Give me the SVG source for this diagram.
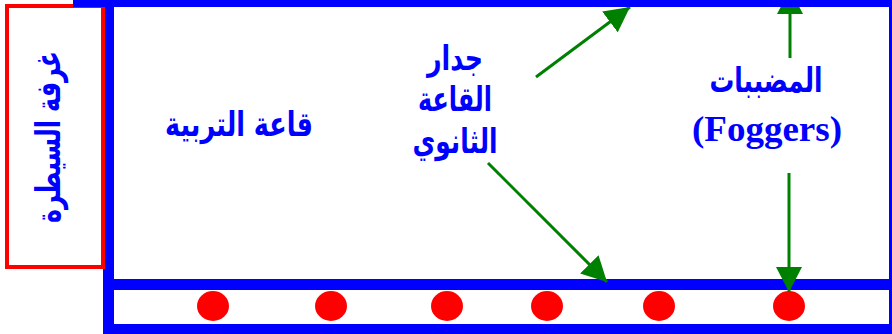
<svg xmlns="http://www.w3.org/2000/svg" width="892" height="334" viewBox="0 0 892 334">
  <style>
    .frame { fill: #0000ff; }
    .ar { font-family: "DejaVu Sans", "Noto Sans", sans-serif; font-weight: bold; fill: #0000ff; text-anchor: middle; }
    .en { font-family: "Liberation Serif", "Times New Roman", serif; font-weight: bold; fill: #0000ff; text-anchor: middle; }
    .fog { fill: #ff0000; }
    .arrow { stroke: #008000; stroke-width: 3; fill: none; marker-end: url(#head); }
  </style>
  <defs>
    <marker id="head" viewBox="0 0 25 26" refX="25" refY="13" markerWidth="25" markerHeight="26" markerUnits="userSpaceOnUse" orient="auto">
      <path d="M0,0 L25,13 L0,26 z" fill="#008000"/>
    </marker>
  </defs>
  <rect width="892" height="334" fill="#ffffff"/>

  <g id="greenhouse-frame">
    <rect class="frame" x="103" y="0" width="11" height="334"/>
    <rect class="frame" x="889" y="0" width="3" height="334"/>
    <rect class="frame" x="103" y="279" width="789" height="11"/>
    <rect class="frame" x="103" y="324" width="789" height="10"/>
  </g>

  <g id="control-room">
    <rect x="7" y="6" width="96" height="261" fill="none" stroke="#ff0000" stroke-width="4"/>
    <text class="ar" font-size="34" transform="translate(60,137) rotate(-90)" textLength="172" lengthAdjust="spacingAndGlyphs">غرفة السيطرة</text>
  </g>

  <g id="foggers-row">
    <ellipse class="fog" cx="213" cy="306" rx="16" ry="15"/>
    <ellipse class="fog" cx="331" cy="306" rx="16" ry="15"/>
    <ellipse class="fog" cx="447" cy="306" rx="16" ry="15"/>
    <ellipse class="fog" cx="547" cy="306" rx="16" ry="15"/>
    <ellipse class="fog" cx="659" cy="306" rx="16" ry="15"/>
    <ellipse class="fog" cx="789" cy="306" rx="16" ry="15"/>
  </g>

  <g id="soil-room">
    <text class="ar" font-size="34" x="239" y="136" textLength="148" lengthAdjust="spacingAndGlyphs">قاعة التربية</text>
  </g>

  <g id="secondary-wall-label">
    <text class="ar" font-size="34" x="455" y="70" textLength="56" lengthAdjust="spacingAndGlyphs">جدار</text>
    <text class="ar" font-size="34" x="455" y="111" textLength="74" lengthAdjust="spacingAndGlyphs">القاعة</text>
    <text class="ar" font-size="34" x="455" y="153" textLength="85" lengthAdjust="spacingAndGlyphs">الثانوي</text>
  </g>

  <g id="foggers-label">
    <text class="ar" font-size="34" x="766" y="92" textLength="113" lengthAdjust="spacingAndGlyphs">المضببات</text>
    <text class="en" font-size="35" x="767" y="141" textLength="150" lengthAdjust="spacingAndGlyphs">(Foggers)</text>
  </g>

  <g id="connectors">
    <line class="arrow" x1="536" y1="77" x2="630" y2="7"/>
    <line class="arrow" x1="488" y1="163" x2="607" y2="282"/>
    <line class="arrow" x1="790" y1="58" x2="790" y2="-11"/>
    <line class="arrow" x1="789" y1="173" x2="789" y2="292"/>
  </g>

  <g id="top-wall">
    <rect class="frame" x="73" y="0" width="819" height="7"/>
  </g>
</svg>
